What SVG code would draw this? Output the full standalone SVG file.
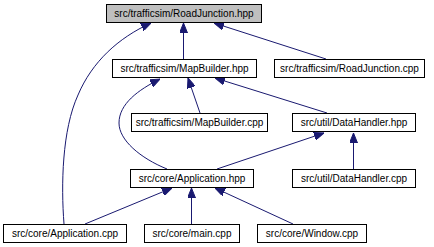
<svg xmlns="http://www.w3.org/2000/svg" width="434" height="247" viewBox="0 0 434 247">
  <style>
    .node rect { fill: #ffffff; stroke: #000000; stroke-width: 1; }
    .node.focus rect { fill: #bfbfbf; }
    .node text { font-family: "Liberation Sans", Arial, Helvetica, sans-serif; font-size: 10px; fill: #000000; text-anchor: middle; }
    .edge { fill: none; stroke: #191970; stroke-width: 1; marker-end: url(#arrow); }
  </style>
  <defs>
    <marker id="arrow" viewBox="0 0 10 8" refX="10" refY="4" markerWidth="10" markerHeight="8" markerUnits="userSpaceOnUse" orient="auto">
      <path d="M0,0 L10,4 L0,8 z" fill="#191970" stroke="#191970" stroke-width="1"/>
    </marker>
  </defs>
  <rect width="434" height="247" fill="#ffffff"/>

  <!-- include-dependency edges (arrow points at the included header) -->
  <g id="edges">
    <path class="edge" d="M64,224 C61,185 62,130 78,95 C92,62 118,38 151,23"/>
    <path class="edge" d="M183.5,59 L183.5,23"/>
    <path class="edge" d="M326,59 L214,23"/>
    <path class="edge" d="M200,113 L188,78"/>
    <path class="edge" d="M327,113 L215,78"/>
    <path class="edge" d="M167,169 C140,158 119,140 119,123 C119,104 138,90 160,79"/>
    <path class="edge" d="M217,169 L324,133"/>
    <path class="edge" d="M353.5,169 L353.5,133"/>
    <path class="edge" d="M85,224 L172,188"/>
    <path class="edge" d="M191.5,224 L191.5,188"/>
    <path class="edge" d="M293,224 L215,188"/>
  </g>

  <g id="node-roadjunction-hpp" class="node focus">
    <rect x="106.5" y="4.5" width="155" height="18"/>
    <text x="184" y="17">src/trafficsim/RoadJunction.hpp</text>
  </g>
  <g id="node-mapbuilder-hpp" class="node">
    <rect x="112.5" y="59.5" width="144" height="18"/>
    <text x="184.5" y="72">src/trafficsim/MapBuilder.hpp</text>
  </g>
  <g id="node-roadjunction-cpp" class="node">
    <rect x="274.5" y="59.5" width="150" height="18"/>
    <text x="349.5" y="72">src/trafficsim/RoadJunction.cpp</text>
  </g>
  <g id="node-mapbuilder-cpp" class="node">
    <rect x="131.5" y="113.5" width="136" height="18"/>
    <text x="199.5" y="126">src/trafficsim/MapBuilder.cpp</text>
  </g>
  <g id="node-datahandler-hpp" class="node">
    <rect x="292.5" y="113.5" width="123" height="18"/>
    <text x="354" y="126">src/util/DataHandler.hpp</text>
  </g>
  <g id="node-application-hpp" class="node">
    <rect x="130.5" y="169.5" width="123" height="18"/>
    <text x="192" y="182">src/core/Application.hpp</text>
  </g>
  <g id="node-datahandler-cpp" class="node">
    <rect x="292.5" y="169.5" width="123" height="18"/>
    <text x="354" y="182">src/util/DataHandler.cpp</text>
  </g>
  <g id="node-application-cpp" class="node">
    <rect x="3.5" y="224.5" width="123" height="18"/>
    <text x="65" y="237">src/core/Application.cpp</text>
  </g>
  <g id="node-main-cpp" class="node">
    <rect x="144.5" y="224.5" width="95" height="18"/>
    <text x="192" y="237">src/core/main.cpp</text>
  </g>
  <g id="node-window-cpp" class="node">
    <rect x="257.5" y="224.5" width="109" height="18"/>
    <text x="312" y="237">src/core/Window.cpp</text>
  </g>
</svg>
